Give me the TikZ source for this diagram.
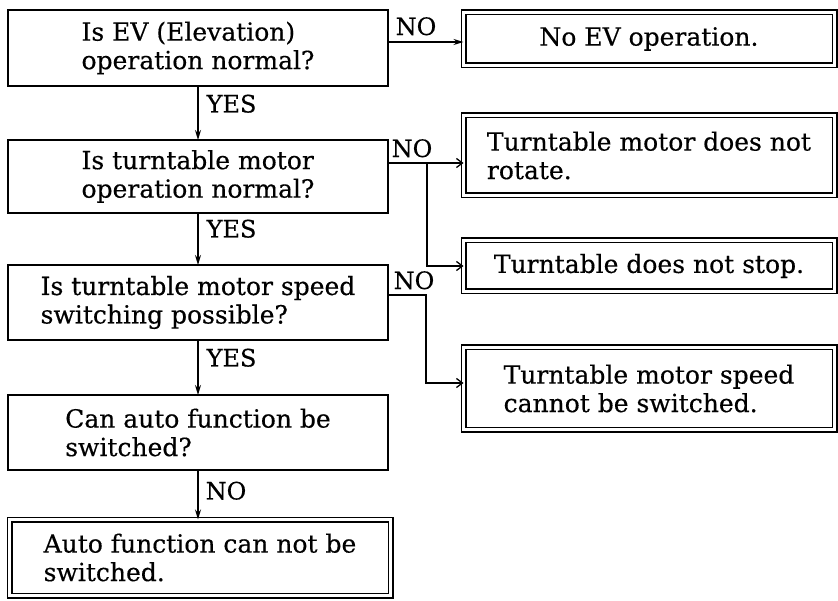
\documentclass[tikz,border=0pt]{standalone}
\usepackage{fontspec}
\setmainfont{DejaVu Serif}[FakeBold=0.4]
\usetikzlibrary{arrows.meta,calc}
\begin{document}
\begin{tikzpicture}[x=1pt,y=-1pt, line width=1.3pt,
  qbox/.style={draw, rectangle, inner sep=0pt, outer sep=0pt, align=left, font=\fontsize{25}{28.5}\selectfont},
  rbox/.style={qbox, double, double distance=3.6pt, line width=1.2pt},
  lbl/.style={inner sep=0pt, font=\fontsize{24}{24}\selectfont},
  varrow/.style={-{Stealth[length=10pt,width=6pt]}},
  harrow/.style={-{Straight Barb[length=6pt,width=9pt]}}]
\useasboundingbox (0,0) rectangle (838,601);

% left column
\node[qbox, minimum width=380pt, minimum height=76pt] (A1) at (198,48) {Is EV (Elevation)\\operation normal?};
\node[qbox, minimum width=380pt, minimum height=73pt] (A2) at (198,176.5) {Is turntable motor\\operation normal?};
\node[qbox, minimum width=380pt, minimum height=75pt] (A3) at (198,302.5) {Is turntable motor speed\\switching possible?};
\node[qbox, minimum width=380pt, minimum height=75pt] (A4) at (198,432.5) {Can auto function be\\switched?};
\node[rbox, minimum width=381pt, minimum height=76pt] (A5) at (200,557.5) {Auto function can not be\\switched.};

% right column
\node[rbox, minimum width=371pt, minimum height=53pt] (R1) at (649,39) {No EV operation.};
\node[rbox, minimum width=371pt, minimum height=80pt] (R2) at (649,155.5) {Turntable motor does not\\rotate.};
\node[rbox, minimum width=371pt, minimum height=51pt] (R3) at (649,266) {Turntable does not stop.};
\node[rbox, minimum width=371pt, minimum height=82pt] (R4) at (649,388.5) {Turntable motor speed\\cannot be switched.};

% vertical connectors
\draw[varrow] (A1) -- (A2);
\draw[varrow] (A2) -- (A3);
\draw[varrow] (A3) -- (A4);
\draw[varrow] (A4.south) -- (A4.south |- A5.north);
\node[lbl, anchor=north west] (y1) at ($(A1.south)+(8,8)$) {YES};
\node[lbl, anchor=north west] (y2) at ($(A2.south)+(8,6)$) {YES};
\node[lbl, anchor=north west] (y3) at ($(A3.south)+(8,8)$) {YES};
\node[lbl, anchor=north west] (n4) at ($(A4.south)+(7,11)$) {NO};

% horizontal connectors
\coordinate (c1) at (420,42);
\draw[varrow] (A1.east |- c1) -- (R1.west |- c1);
\node[lbl, anchor=south west] (n1) at ($(A1.east |- c1)+(7,-6)$) {NO};

\coordinate (b1) at (427,163);
\draw[harrow] (A2.east |- b1) -- (R2.west |- b1);
\draw[harrow] (b1) |- (R3.west);
\node[lbl, anchor=south west] (n2) at ($(A2.east |- b1)+(3,-5)$) {NO};

\coordinate (b2) at (426,295);
\coordinate (b3) at (426,383);
\draw[harrow] (A3.east |- b2) -- (b2) -- (b3) -- (R4.west |- b3);
\node[lbl, anchor=south west] (n3) at ($(A3.east |- b2)+(5,-5)$) {NO};
\end{tikzpicture}
\end{document}
